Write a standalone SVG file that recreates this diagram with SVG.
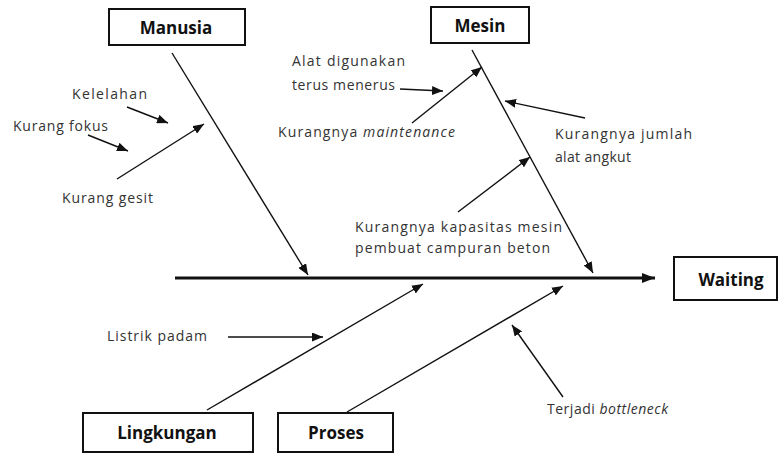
<svg xmlns="http://www.w3.org/2000/svg" width="778" height="455" viewBox="0 0 778 455">
  <defs>
    <marker id="head" viewBox="0 0 11 9" refX="11" refY="4.5" markerWidth="11" markerHeight="9" markerUnits="userSpaceOnUse" orient="auto">
      <path d="M0,0 L11,4.5 L0,9 z" fill="#111"/>
    </marker>
    <marker id="headBig" viewBox="0 0 13 10" refX="13" refY="5" markerWidth="13" markerHeight="10" markerUnits="userSpaceOnUse" orient="auto">
      <path d="M0,0 L13,5 L0,10 z" fill="#111"/>
    </marker>
    <style>
      .box { fill: #fff; stroke: #111; stroke-width: 2; }
      .title { font-family: "Open Sans", "Liberation Sans", sans-serif; font-weight: bold; font-size: 17px; fill: #111; text-anchor: middle; }
      .lbl { font-family: "Open Sans", "Liberation Sans", sans-serif; font-size: 14px; fill: #333; }
      .it { font-style: italic; }
      .bone { stroke: #111; stroke-width: 1.4; fill: none; marker-end: url(#head); }
      .spine { stroke: #111; stroke-width: 3; fill: none; marker-end: url(#headBig); }
    </style>
  </defs>
  <rect width="778" height="455" fill="#fff"/>

  <!-- connectors -->
  <g id="connectors">
    <line class="spine" x1="175" y1="278" x2="655" y2="278"/>
    <line class="bone" x1="172" y1="53" x2="308" y2="275"/>
    <line class="bone" x1="472" y1="50" x2="593" y2="273"/>
    <line class="bone" x1="207" y1="410" x2="423" y2="284"/>
    <line class="bone" x1="347" y1="412" x2="563" y2="286"/>
    <line class="bone" x1="127" y1="107" x2="168" y2="123"/>
    <line class="bone" x1="88" y1="135" x2="128" y2="151"/>
    <line class="bone" x1="117" y1="179" x2="204" y2="124"/>
    <line class="bone" x1="400" y1="89" x2="443" y2="91"/>
    <line class="bone" x1="412" y1="123" x2="482" y2="67"/>
    <line class="bone" x1="585" y1="118" x2="505" y2="101"/>
    <line class="bone" x1="458" y1="212" x2="530" y2="157"/>
    <line class="bone" x1="228" y1="337" x2="323" y2="337"/>
    <line class="bone" x1="563" y1="397" x2="512" y2="325"/>
  </g>

  <!-- category boxes -->
  <g id="manusia">
    <rect class="box" x="109" y="9" width="136" height="36"/>
    <text class="title" x="176" y="34">Manusia</text>
  </g>
  <g id="mesin">
    <rect class="box" x="431" y="7" width="98" height="36"/>
    <text class="title" x="480" y="32">Mesin</text>
  </g>
  <g id="waiting">
    <rect class="box" x="674" y="257" width="103" height="43"/>
    <text class="title" x="731" y="286">Waiting</text>
  </g>
  <g id="lingkungan">
    <rect class="box" x="83" y="413" width="170" height="39"/>
    <text class="title" x="167" y="439">Lingkungan</text>
  </g>
  <g id="proses">
    <rect class="box" x="278" y="413" width="115" height="39"/>
    <text class="title" x="336" y="439">Proses</text>
  </g>

  <!-- causes -->
  <g id="causes">
    <text class="lbl" x="72" y="99" textLength="75" lengthAdjust="spacing">Kelelahan</text>
    <text class="lbl" x="13" y="131" textLength="95" lengthAdjust="spacing">Kurang fokus</text>
    <text class="lbl" x="62" y="203" textLength="91" lengthAdjust="spacing">Kurang gesit</text>
    <text class="lbl" x="292" y="66" textLength="113" lengthAdjust="spacing">Alat digunakan</text>
    <text class="lbl" x="292" y="90" textLength="103" lengthAdjust="spacing">terus menerus</text>
    <text class="lbl" x="278" y="137" textLength="177" lengthAdjust="spacing">Kurangnya <tspan class="it">maintenance</tspan></text>
    <text class="lbl" x="555" y="139" textLength="137" lengthAdjust="spacing">Kurangnya jumlah</text>
    <text class="lbl" x="555" y="162" textLength="76" lengthAdjust="spacing">alat angkut</text>
    <text class="lbl" x="355" y="232" textLength="207" lengthAdjust="spacing">Kurangnya kapasitas mesin</text>
    <text class="lbl" x="355" y="253" textLength="195" lengthAdjust="spacing">pembuat campuran beton</text>
    <text class="lbl" x="107" y="341" textLength="100" lengthAdjust="spacing">Listrik padam</text>
    <text class="lbl" x="547" y="414" textLength="121" lengthAdjust="spacing">Terjadi <tspan class="it">bottleneck</tspan></text>
  </g>
</svg>
